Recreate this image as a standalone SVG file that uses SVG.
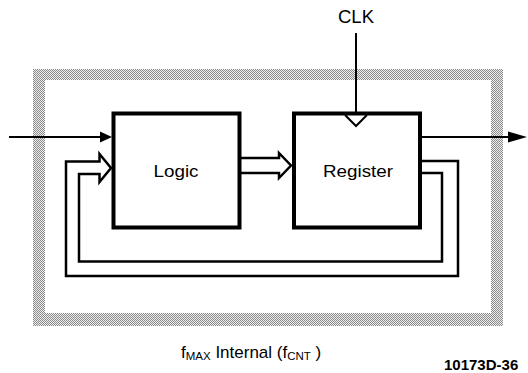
<svg xmlns="http://www.w3.org/2000/svg" width="528" height="373" viewBox="0 0 528 373">
<defs>
<pattern id="dots" width="2" height="2" patternUnits="userSpaceOnUse">
<rect width="2" height="2" fill="#efefef"/>
<rect x="0" y="0" width="1" height="1" fill="#8a8a8a"/>
<rect x="1" y="1" width="1" height="1" fill="#8a8a8a"/>
</pattern>
</defs>
<style>
.box{fill:#fff;stroke:#000;stroke-width:4}
.wire{fill:none;stroke:#000;stroke-width:2}
.rib{fill:none;stroke:#000;stroke-width:2.5;stroke-linejoin:miter}
.lbl{font-family:"Liberation Sans",Arial,sans-serif;fill:#000}
</style>
<rect width="528" height="373" fill="#fff"/>
<g id="boundary">
<path d="M33,69 H503 V326 H33 Z M45,80 V313 H491 V80 Z" fill="url(#dots)" fill-rule="evenodd"/>
</g>
<g id="node-logic">
<rect class="box" x="113.5" y="113.5" width="126" height="114"/>
<text class="lbl" x="176" y="177" font-size="17" text-anchor="middle" textLength="45" lengthAdjust="spacingAndGlyphs">Logic</text>
</g>
<g id="node-register">
<rect class="box" x="294" y="113.5" width="126" height="114"/>
<polyline class="wire" points="345,115 356,126 367,115"/>
<text class="lbl" x="358" y="177" font-size="17" text-anchor="middle" textLength="70" lengthAdjust="spacingAndGlyphs">Register</text>
</g>
<g id="connectors">
<line class="wire" x1="9" y1="137" x2="101" y2="137"/>
<polygon points="100,131.5 112,137 100,142.5" fill="#000"/>
<line class="wire" x1="422" y1="137" x2="510" y2="137"/>
<polygon points="508,131.5 527,137 508,142.5" fill="#000"/>
<line class="wire" x1="356" y1="33" x2="356" y2="114"/>
<path class="rib" d="M241,158 H279 V153 L291,165.5 L279,178 V173 H241"/>
<path class="rib" d="M422,161 H458 V276 H66 V161.5 H99.5 V154 L111,168 L99.5,182 V174 H79 V261.5 H442 V173 H422"/>
</g>
<g id="labels">
<text class="lbl" x="356" y="23" font-size="18" text-anchor="middle" textLength="36" lengthAdjust="spacingAndGlyphs">CLK</text>
<text class="lbl" x="181" y="358" font-size="17">f<tspan font-size="11.5" dy="2">MAX</tspan><tspan dy="-2">  Internal (f</tspan><tspan font-size="11.5" dy="2">CNT</tspan><tspan dy="-2"> )</tspan></text>
<text class="lbl" x="444" y="370" font-size="15" font-weight="bold">10173D-36</text>
</g>
</svg>
